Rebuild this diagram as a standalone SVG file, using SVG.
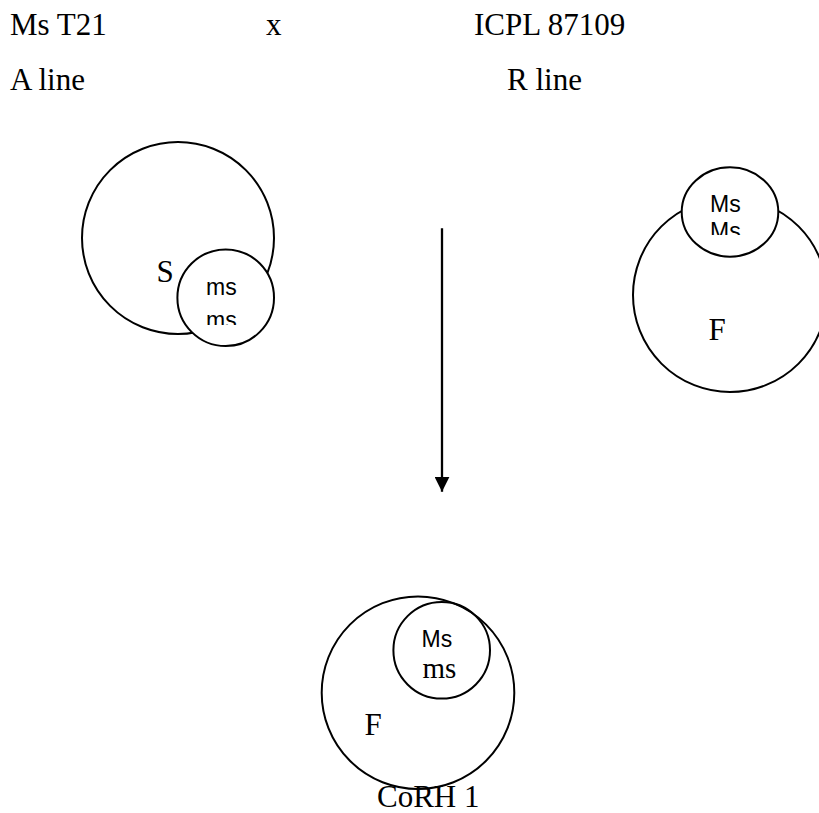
<svg xmlns="http://www.w3.org/2000/svg" width="819" height="813" viewBox="0 0 819 813">
<style>
.c{fill:#fff;stroke:#000;stroke-width:2}
.cn{fill:none;stroke:#000;stroke-width:2}
.serif{font-family:"Liberation Serif","Times New Roman",serif;fill:#000}
.sans{font-family:"Liberation Sans",Arial,sans-serif;fill:#000}
.hdr{font-size:31px}
.lbl{font-size:31px}
.sm{font-size:23px}
</style>
<defs>
<clipPath id="clipL"><rect x="180" y="250" width="90" height="75"/></clipPath>
<clipPath id="clipR"><rect x="685" y="170" width="90" height="65"/></clipPath>
<marker id="ah" viewBox="0 0 15 15" refX="15" refY="7.5" markerWidth="15" markerHeight="15" markerUnits="userSpaceOnUse" orient="auto"><path d="M0,0 L15,7.5 L0,15 Z" fill="#000"/></marker>
</defs>
<rect width="819" height="813" fill="#fff"/>
<g id="header">
<text class="serif hdr" x="10" y="35">Ms T21</text>
<text class="serif hdr" x="266" y="35">x</text>
<text class="serif hdr" x="474" y="35">ICPL 87109</text>
<text class="serif hdr" x="10" y="90">A line</text>
<text class="serif hdr" x="507" y="90">R line</text>
</g>
<g id="node-aline">
<circle class="c" cx="178" cy="238" r="96"/>
<text class="serif lbl" x="156.5" y="281.5" font-size="30">S</text>
<circle class="c" cx="225.7" cy="297.7" r="48.3"/>
<text class="sans sm" x="206" y="294.5">ms</text>
<text class="sans sm" x="206" y="327.5" clip-path="url(#clipL)">ms</text>
</g>
<g id="node-rline">
<circle class="c" cx="730" cy="295" r="97"/>
<text class="serif lbl" x="708.5" y="340">F</text>
<ellipse class="c" cx="730" cy="212" rx="48.3" ry="44.7"/>
<text class="sans sm" x="710" y="211.7">Ms</text>
<text class="sans sm" x="710" y="239" clip-path="url(#clipR)">Ms</text>
</g>
<g id="connectors">
<line x1="442" y1="228.3" x2="442" y2="491.7" stroke="#000" stroke-width="2.3" marker-end="url(#ah)"/>
</g>
<g id="node-corh">
<circle class="cn" cx="418" cy="692.7" r="96.3"/>
<circle class="cn" cx="441.7" cy="650.3" r="48.3"/>
<text class="sans sm" x="421.5" y="646.7">Ms</text>
<text class="serif" x="422.5" y="678.3" font-size="29">ms</text>
<text class="serif lbl" x="364.5" y="735">F</text>
<text class="serif lbl" x="377" y="807.3">CoRH 1</text>
</g>
</svg>
